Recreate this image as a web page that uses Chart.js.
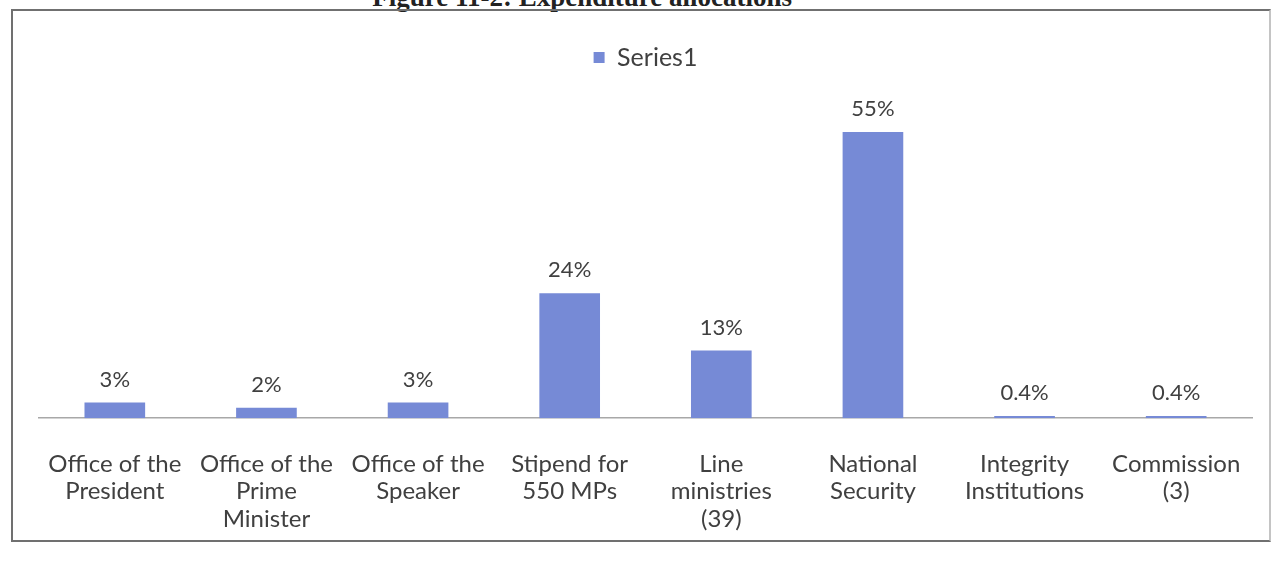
<!DOCTYPE html>
<html>
<head>
<meta charset="utf-8">
<script src="https://cdn.jsdelivr.net/npm/chart.js@4/dist/chart.umd.min.js"></script>
<style>
    body { margin: 0; background: #fff; }
    #wrap { position: relative; width: 1274px; height: 566px; overflow: hidden; background: #fff; }
    #title {
        position: absolute; top: -18px; left: 250px; width: 542px; text-align: right;
        font: bold 27px "Liberation Serif", "DejaVu Serif", serif; color: #222; white-space: nowrap;
    }
    #frame {
        position: absolute; left: 11px; top: 9px; width: 1256px; height: 529px;
        border: 2px solid #707070; border-right-color: #c4c4c4;
    }
    #chart { position: absolute; left: 0; top: 0; }
</style>
</head>
<body>
<div id="wrap">
    <div id="title">Figure 11-2: Expenditure allocations</div>
    <div id="frame"></div>
    <canvas id="chart" width="1274" height="566"></canvas>
</div>
<script>
const categories = [
    ['Office of the', 'President'],
    ['Office of the', 'Prime', 'Minister'],
    ['Office of the', 'Speaker'],
    ['Stipend for', '550 MPs'],
    ['Line', 'ministries', '(39)'],
    ['National', 'Security'],
    ['Integrity', 'Institutions'],
    ['Commission', '(3)']
];
const shares = [3, 2, 3, 24, 13, 55, 0.4, 0.4];
const shareLabels = ['3%', '2%', '3%', '24%', '13%', '55%', '0.4%', '0.4%'];

// value labels above each bar
const barLabels = {
    id: 'barLabels',
    afterDatasetsDraw(chart) {
        const ctx = chart.ctx;
        const meta = chart.getDatasetMeta(0);
        ctx.save();
        ctx.font = '22px Lato';
        ctx.fillStyle = '#404040';
        ctx.textAlign = 'center';
        ctx.textBaseline = 'middle';
        meta.data.forEach((bar, i) => {
            ctx.fillText(shareLabels[i], bar.x, bar.y - 23);
        });
        ctx.restore();
    }
};

const ctx = document.getElementById('chart').getContext('2d');

new Chart(ctx, {
    type: 'bar',
    data: {
        labels: categories,
        datasets: [
            {
                label: 'Series1',
                data: shares,
                backgroundColor: '#768ad6',
                borderWidth: 0,
                categoryPercentage: 1,
                barPercentage: 0.4
            }
        ]
    },
    options: {
        responsive: false,
        animation: false,
        layout: {
            padding: { top: 35, left: 39, right: 22, bottom: 9 }
        },
        plugins: {
            legend: {
                display: true,
                labels: {
                    color: '#404040',
                    boxWidth: 11,
                    boxHeight: 11,
                    padding: 10,
                    font: { family: 'Lato', size: 25 }
                }
            },
            tooltip: { enabled: false }
        },
        scales: {
            x: {
                grid: { display: false },
                border: { display: true, color: '#a8a8a8', width: 1.5 },
                ticks: {
                    color: '#404040',
                    padding: 24,
                    maxRotation: 0,
                    autoSkip: false,
                    font: { family: 'Lato', size: 24, lineHeight: 1.15 }
                }
            },
            y: {
                display: false,
                min: 0,
                max: 65
            }
        }
    },
    plugins: [barLabels]
});
</script>
</body>
</html>
